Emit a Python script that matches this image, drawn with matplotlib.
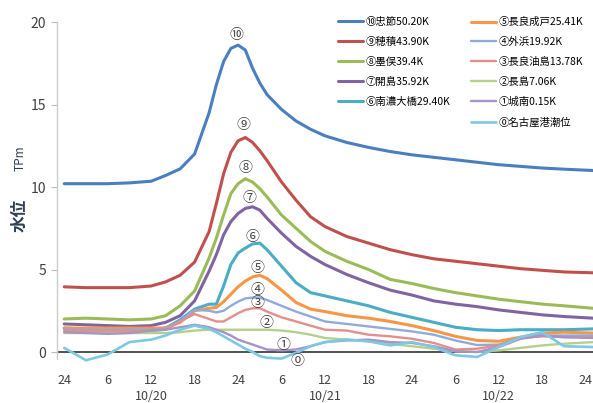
import matplotlib
matplotlib.use("Agg")
import matplotlib.pyplot as plt
from matplotlib.transforms import blended_transform_factory

plt.rcParams['font.family'] = ['Noto Sans CJK JP', 'DejaVu Sans']

# hours since 10/20 00:00
hours = [0, 3, 6, 9, 12, 14, 16, 18, 20, 21, 22, 23, 24, 25, 26, 27, 28,
         30, 32, 34, 36, 39, 42, 45, 48, 51, 54, 57, 60, 63, 66, 69, 73]

s10 = [10.2, 10.2, 10.2, 10.25, 10.35, 10.7, 11.1, 12.0, 14.5, 16.2, 17.6, 18.4, 18.6, 18.3, 17.2, 16.3, 15.6,
       14.7, 14.0, 13.5, 13.1, 12.7, 12.4, 12.15, 11.95, 11.8, 11.65, 11.5, 11.35, 11.25, 11.15, 11.08, 11.0]
s9 = [3.95, 3.9, 3.9, 3.9, 4.0, 4.25, 4.65, 5.45, 7.3, 9.0, 10.8, 12.1, 12.8, 13.0, 12.7, 12.2, 11.6,
      10.3, 9.2, 8.2, 7.6, 7.0, 6.6, 6.2, 5.9, 5.65, 5.5, 5.35, 5.2, 5.05, 4.95, 4.85, 4.8]
s8 = [2.0, 2.05, 2.0, 1.95, 2.0, 2.2, 2.8, 3.7, 5.7, 6.9, 8.3, 9.6, 10.2, 10.5, 10.3, 9.9, 9.4,
      8.3, 7.5, 6.7, 6.1, 5.5, 5.0, 4.4, 4.15, 3.85, 3.6, 3.4, 3.2, 3.05, 2.9, 2.8, 2.65]
s7 = [1.7, 1.65, 1.6, 1.55, 1.6, 1.8, 2.2, 3.1, 4.9, 5.9, 7.1, 7.9, 8.4, 8.7, 8.8, 8.6, 8.1,
      7.2, 6.4, 5.8, 5.3, 4.7, 4.2, 3.75, 3.45, 3.1, 2.9, 2.75, 2.55, 2.4, 2.25, 2.15, 2.05]
s6 = [1.45, 1.4, 1.4, 1.4, 1.4, 1.45, 1.95, 2.6, 2.9, 2.9, 4.0, 5.3, 6.0, 6.3, 6.55, 6.6, 6.2,
      5.2, 4.2, 3.6, 3.4, 3.1, 2.8, 2.4, 2.1, 1.8, 1.5, 1.35, 1.3, 1.35, 1.35, 1.35, 1.4]
s5 = [1.45, 1.45, 1.45, 1.45, 1.45, 1.45, 1.8, 2.5, 2.65, 2.7, 3.05, 3.5, 3.95, 4.3, 4.55, 4.65, 4.45,
      3.75, 3.0, 2.6, 2.45, 2.2, 2.05, 1.85, 1.6, 1.3, 0.95, 0.7, 0.65, 0.9, 1.15, 1.2, 1.15]
s4 = [1.35, 1.35, 1.35, 1.35, 1.35, 1.4, 1.9, 2.55, 2.5, 2.4, 2.5, 2.8, 3.05, 3.25, 3.3, 3.3, 3.15,
      2.8, 2.45, 2.15, 1.85, 1.7, 1.55, 1.4, 1.25, 1.05, 0.7, 0.42, 0.45, 0.85, 1.0, 1.0, 1.0]
s3 = [1.28, 1.28, 1.28, 1.28, 1.28, 1.35, 1.85, 2.3, 2.0, 1.85, 1.85, 2.1, 2.35, 2.55, 2.65, 2.65, 2.45,
      2.1, 1.85, 1.6, 1.35, 1.3, 1.05, 0.95, 0.8, 0.55, 0.15, 0.2, 0.4, 0.85, 0.95, 0.9, 0.9]
s2 = [1.15, 1.15, 1.15, 1.15, 1.15, 1.15, 1.2, 1.3, 1.35, 1.35, 1.35, 1.35, 1.35, 1.35, 1.35, 1.35, 1.35,
      1.3, 1.2, 1.05, 0.85, 0.75, 0.65, 0.5, 0.35, 0.2, 0.05, 0.0, 0.1, 0.25, 0.4, 0.5, 0.6]
s1 = [1.2, 1.15, 1.1, 1.15, 1.3, 1.35, 1.5, 1.65, 1.5, 1.35, 1.2, 1.0, 0.75, 0.6, 0.45, 0.3, 0.15,
      0.1, 0.15, 0.35, 0.6, 0.7, 0.75, 0.6, 0.55, 0.35, 0.05, 0.0, 0.3, 0.8, 1.0, 0.9, 0.85]
s0 = [0.25, -0.5, -0.15, 0.6, 0.75, 1.0, 1.35, 1.6, 1.4, 1.2, 0.95, 0.7, 0.45, 0.2, 0.0, -0.25, -0.35,
      -0.4, -0.05, 0.35, 0.6, 0.75, 0.65, 0.4, 0.6, 0.3, -0.2, -0.3, 0.3, 0.9, 1.2, 0.35, 0.3]

series = [s10, s9, s8, s7, s6, s5, s4, s3, s2, s1, s0]
names = ['⑩忠節50.20K', '⑨穂積43.90K', '⑧墨俣39.4K', '⑦開島35.92K', '⑥南濃大橋29.40K',
         '⑤長良成戸25.41K', '④外浜19.92K', '③長良油島13.78K', '②長島7.06K', '①城南0.15K',
         '⓪名古屋港潮位']
colors = ['#4A7EC0', '#C0504D', '#9BBB59', '#8064A2', '#4BACC6', '#F79646',
          '#8FAADC', '#E38F8C', '#B5D08A', '#A593C9', '#7EC8E3']
widths = [2.2, 2.2, 2.2, 2.2, 2.2, 2.2, 1.7, 1.7, 1.7, 1.7, 1.9]

peak_labels = ['⑩', '⑨', '⑧', '⑦', '⑥', '⑤', '④', '③', '②', '①', '⓪']
peak_x = [23.8, 24.7, 25.0, 25.6, 26.0, 26.7, 26.7, 26.7, 27.9, 30.2, 32.2]
peak_y = [19.2, 13.75, 11.15, 9.33, 6.97, 5.1, 3.75, 3.0, 1.76, 0.42, -0.55]

xtick_pos = [0, 6, 12, 18, 24, 30, 36, 42, 48, 54, 60, 66, 72]
xtick_lab = ['24', '6', '12', '18', '24', '6', '12', '18', '24', '6', '12', '18', '24']
date_pos = [12, 36, 60]
date_lab = ['10/20', '10/21', '10/22']

W, H = 593, 403
fig = plt.figure(figsize=(W / 100, H / 100), dpi=100)
ax = fig.add_axes([57 / W, 1 - 368.5 / H, (593 - 57) / W, (368.5 - 22) / H])

lines = []
for s, n, c, w in zip(series, names, colors, widths):
    ln, = ax.plot(hours, s, color=c, lw=w, label=n, solid_capstyle='round', solid_joinstyle='round')
    lines.append(ln)

ax.axhline(0, color='#333333', lw=1.2, zorder=1)

for t, x, y in zip(peak_labels, peak_x, peak_y):
    ax.text(x, y, t, ha='center', va='center', fontsize=10, color='#444444', zorder=5)

ax.set_xlim(-1, 73)
ax.set_ylim(-1, 20)
ax.set_yticks([0, 5, 10, 15, 20])
ax.set_xticks(xtick_pos)
ax.set_xticklabels(xtick_lab)
ax.tick_params(axis='x', length=0, pad=4, labelsize=9, labelcolor='#404040')
ax.tick_params(axis='y', length=4, width=0.8, color='#BBBBBB', pad=4, labelsize=10, labelcolor='#404040')

for sp in ['top', 'right', 'bottom']:
    ax.spines[sp].set_visible(False)
ax.spines['left'].set_color('#CCCCCC')
ax.spines['left'].set_linewidth(1.0)
ax.spines['left'].set_bounds(-0.4, 20)

trans = blended_transform_factory(ax.transData, ax.transAxes)
for p, d in zip(date_pos, date_lab):
    ax.text(p, -0.062, d, transform=trans, ha='center', va='top', fontsize=9, color='#404040')

fig.text(20 / W, 1 - 215 / H, '水位', rotation=90, ha='center', va='center',
         fontsize=12, fontweight='bold', color='#2f3f55')
fig.text(20 / W, 1 - 158 / H, 'TPm', rotation=90, ha='center', va='center',
         fontsize=8.5, color='#2f3f55')

leg_kw = dict(frameon=False, fontsize=7.5, handlelength=2.4, handletextpad=0.25,
              labelspacing=0.95, borderpad=0, borderaxespad=0, loc='upper left')
fig.legend(lines[:5], names[:5], bbox_to_anchor=(338 / W, 1 - 17 / H), **leg_kw)
fig.legend(lines[5:], names[5:], bbox_to_anchor=(471 / W, 1 - 17 / H), **leg_kw)

fig.savefig('out.png', dpi=100)
